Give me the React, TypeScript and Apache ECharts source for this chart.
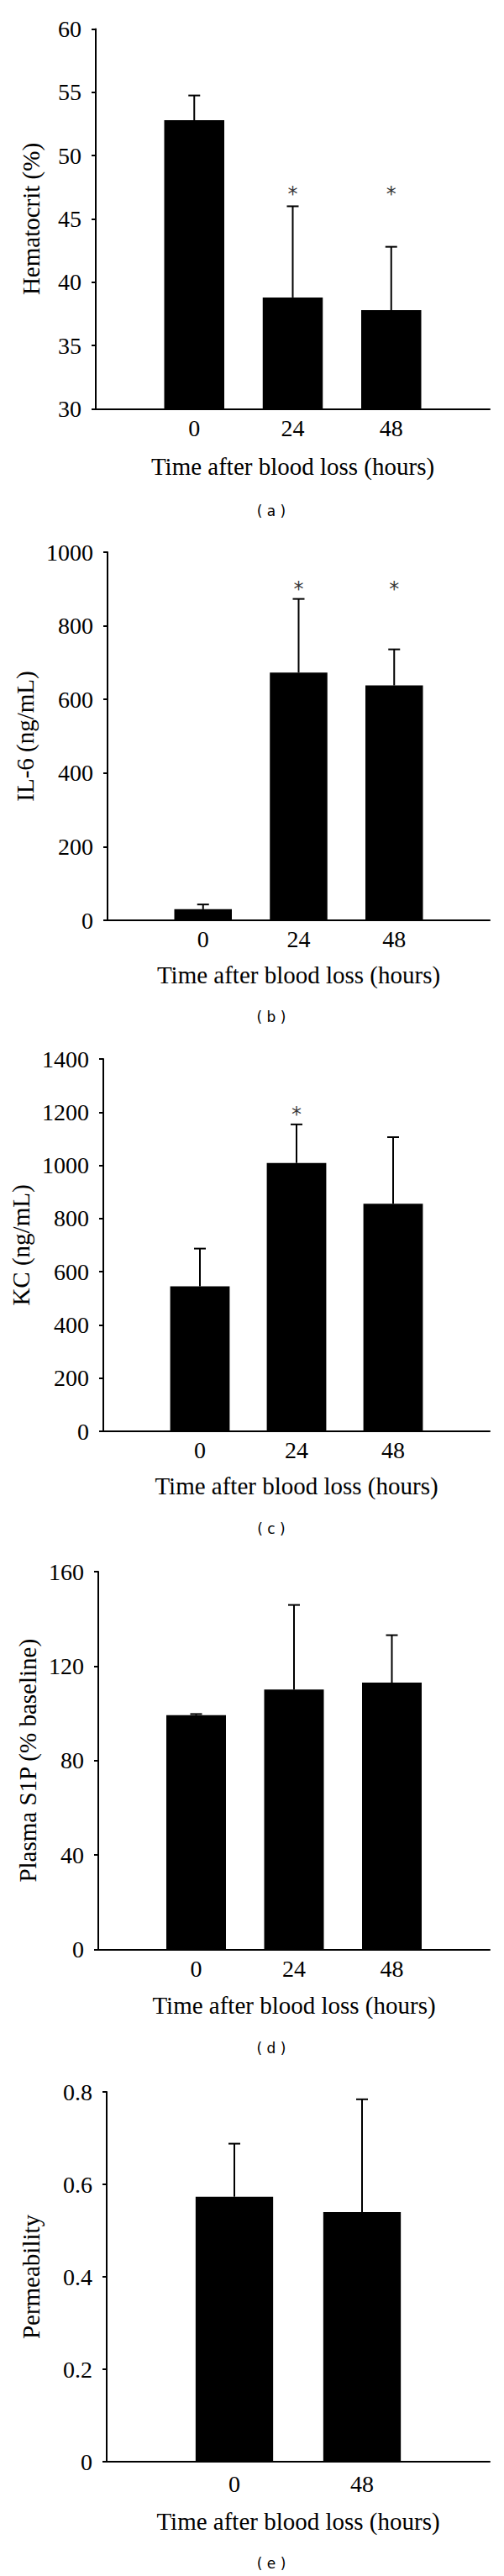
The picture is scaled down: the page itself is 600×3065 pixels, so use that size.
import React, { useEffect, useRef } from "react";
import * as echarts from "echarts";

// ---- data ----
const timeLabels3 = ["0", "24", "48"];
const timeLabels2 = ["0", "48"];
const xAxisTitle = "Time after blood loss (hours)";

// (a) Hematocrit
const hematocritMean = [52.8, 38.8, 37.8];
const hematocritErr = [1.95, 7.2, 5.0];
const hematocritStars = [null, 47.3, 47.3];
const hematocritAxis = [30, 60, 5]; // min, max, interval

// (b) IL-6
const il6Mean = [30, 673, 638];
const il6Err = [13, 200, 98];
const il6Stars = [null, 911, 911];
const il6Axis = [0, 1000, 200];

// (c) KC
const kcMean = [545, 1009, 856];
const kcErr = [142, 145, 250];
const kcStars = [null, 1206, null];
const kcAxis = [0, 1400, 200];

// (d) Plasma S1P
const s1pMean = [99.2, 110.1, 113.0];
const s1pErr = [0.5, 35.8, 20.1];
const s1pStars = [null, null, null];
const s1pAxis = [0, 160, 40];

// (e) Permeability
const permMean = [0.573, 0.54];
const permErr = [0.115, 0.244];
const permStars = [null, null];
const permAxis = [0, 0.8, 0.2];

// ---- layout / style ----
const SERIF = "Liberation Serif";
const panels = [
  { labels: timeLabels3, mean: hematocritMean, err: hematocritErr, stars: hematocritStars, axis: hematocritAxis,
    yName: "Hematocrit (%)", caption: "( a )",
    grid: { left: 114, top: 34.5, width: 469, height: 452 }, barWidth: 71.5, labelMargin: 9, nameGap: 54, yNameGap: 63, captionY: 608 },
  { labels: timeLabels3, mean: il6Mean, err: il6Err, stars: il6Stars, axis: il6Axis,
    yName: "IL-6 (ng/mL)", caption: "( b )",
    grid: { left: 128, top: 657, width: 455, height: 438 }, barWidth: 68.5, labelMargin: 8, nameGap: 50.5, yNameGap: 77, captionY: 1210 },
  { labels: timeLabels3, mean: kcMean, err: kcErr, stars: kcStars, axis: kcAxis,
    yName: "KC (ng/mL)", caption: "( c )",
    grid: { left: 123, top: 1260, width: 460, height: 443 }, barWidth: 70.8, labelMargin: 8, nameGap: 50.5, yNameGap: 72, captionY: 1819 },
  { labels: timeLabels3, mean: s1pMean, err: s1pErr, stars: s1pStars, axis: s1pAxis,
    yName: "Plasma S1P (% baseline)", caption: "( d )",
    grid: { left: 117, top: 1870, width: 466, height: 449.5 }, barWidth: 71, labelMargin: 9, nameGap: 52, yNameGap: 66, captionY: 2437 },
  { labels: timeLabels2, mean: permMean, err: permErr, stars: permStars, axis: permAxis,
    yName: "Permeability", caption: "( e )",
    grid: { left: 127, top: 2489, width: 456, height: 440 }, barWidth: 92.3, labelMargin: 12, nameGap: 56.5, yNameGap: 76, captionY: 3050 },
];

const tickRich = { t: { fontFamily: SERIF, fontSize: 28, color: "#000" } };

function buildOption() {
  const grid: any[] = [];
  const xAxis: any[] = [];
  const yAxis: any[] = [];
  const series: any[] = [];
  const graphic: any[] = [];

  panels.forEach((p, k) => {
    grid.push({ ...p.grid, containLabel: false });
    xAxis.push({
      gridIndex: k,
      type: "category",
      data: ["", ...p.labels, ""],
      boundaryGap: false,
      axisTick: { show: false },
      axisLine: { onZero: false, lineStyle: { color: "#000", width: 2 } },
      axisLabel: {
        interval: 0,
        margin: p.labelMargin,
        color: "#000",
        fontFamily: SERIF,
        fontSize: 28,
        formatter: (v: string) => (v === "" ? "" : `{t|${v}}`),
        rich: tickRich,
      },
      splitLine: { show: false },
      name: xAxisTitle,
      nameLocation: "middle",
      nameGap: p.nameGap,
      nameTextStyle: { color: "#000", fontFamily: SERIF, fontSize: 29 },
    });
    yAxis.push({
      gridIndex: k,
      type: "value",
      min: p.axis[0],
      max: p.axis[1],
      interval: p.axis[2],
      axisLine: { show: true, lineStyle: { color: "#000", width: 2 } },
      axisTick: { show: true, inside: false, length: 5, lineStyle: { color: "#000", width: 2 } },
      axisLabel: {
        margin: 17,
        color: "#000",
        fontFamily: SERIF,
        fontSize: 28,
        formatter: (v: number) => `{t|${String(Math.round(v * 1000) / 1000)}}`,
        rich: tickRich,
      },
      splitLine: { show: false },
      name: p.yName,
      nameLocation: "middle",
      nameGap: p.yNameGap,
      nameTextStyle: { color: "#000", fontFamily: SERIF, fontSize: 29 },
    });
    series.push({
      type: "bar",
      xAxisIndex: k,
      yAxisIndex: k,
      clip: true,
      barWidth: p.barWidth,
      itemStyle: { color: "#000" },
      data: p.mean.map((v, i) => [i + 1, v]),
    });
    series.push({
      type: "custom",
      xAxisIndex: k,
      yAxisIndex: k,
      clip: false,
      z: 5,
      encode: { x: 0, y: [1, 2] },
      data: p.mean.map((v, i) => [i + 1, v, v + p.err[i]]),
      renderItem: (params: any, api: any) => {
        const x = api.value(0);
        const p1 = api.coord([x, api.value(1)]);
        const p2 = api.coord([x, api.value(2)]);
        return {
          type: "group",
          children: [
            { type: "line", shape: { x1: p1[0], y1: p1[1], x2: p2[0], y2: p2[1] }, style: { stroke: "#000", lineWidth: 2 } },
            { type: "line", shape: { x1: p2[0] - 7, y1: p2[1], x2: p2[0] + 7, y2: p2[1] }, style: { stroke: "#000", lineWidth: 2 } },
          ],
        };
      },
    });
    const starData = p.stars
      .map((v, i) => (v == null ? null : [i + 1, v]))
      .filter((d) => d != null);
    if (starData.length) {
      series.push({
        type: "scatter",
        xAxisIndex: k,
        yAxisIndex: k,
        symbol: "circle",
        symbolSize: 1,
        itemStyle: { color: "rgba(0,0,0,0)" },
        data: starData,
        label: {
          show: true,
          position: "inside",
          formatter: "*",
          offset: [0, 5],
          color: "#000",
          fontFamily: "DejaVu Sans",
          fontSize: 24,
        },
      });
    }
    graphic.push({
      type: "text",
      x: 323,
      y: p.captionY,
      style: {
        text: p.caption,
        fontFamily: "DejaVu Sans",
        fontSize: 17,
        fill: "#000",
        align: "center",
        verticalAlign: "middle",
        textAlign: "center",
        textVerticalAlign: "middle",
      },
    });
  });

  return {
    animation: false,
    backgroundColor: "#fff",
    grid,
    xAxis,
    yAxis,
    series,
    graphic,
  };
}

export default function App() {
  const ref = useRef<HTMLDivElement>(null);
  useEffect(() => {
    if (!ref.current) return;
    const chart = echarts.init(ref.current, null, { renderer: "svg" });
    chart.setOption(buildOption() as any);
    return () => chart.dispose();
  }, []);
  return (
    <div
      ref={ref}
      style={{ position: "absolute", left: 0, top: 0, width: 600, height: 3065, background: "#fff" }}
    />
  );
}
